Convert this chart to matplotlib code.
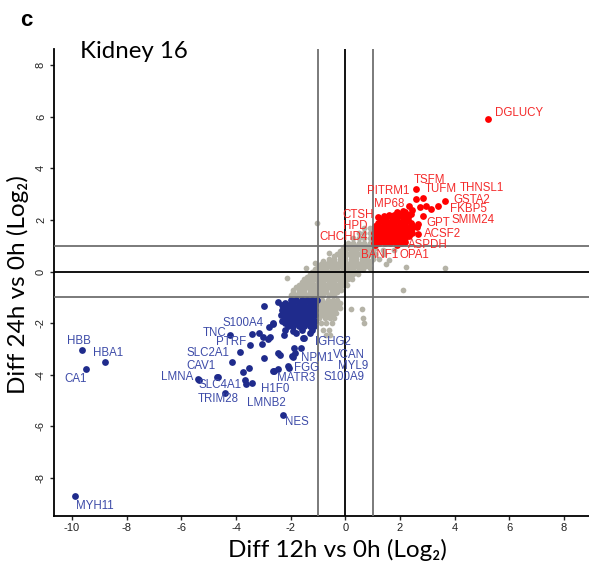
import matplotlib.pyplot as plt

# labelled genes (x = diff 12h vs 0h, y = diff 24h vs 0h, log2)
up_genes = ["DGLUCY", "TSFM", "TUFM", "PITRM1", "THNSL1", "GSTA2", "FKBP5", "MP68",
            "SMIM24", "GPT", "ACSF2", "ASPDH", "OPA1", "BANF1", "CHCHD4", "HPD", "CTSH"]
up_x = [5.21, 2.59, 2.86, 2.59, 3.66, 3.38, 3.14, 2.34, 2.83, 2.65, 2.65, 2.2, 1.9, 1.1, 1.05, 1.1, 1.43]
up_y = [5.93, 3.21, 2.85, 2.82, 2.72, 2.56, 2.43, 2.56, 2.17, 1.85, 1.44, 1.15, 1.05, 1.05, 1.3, 1.75, 2.17]

down_genes = ["HBB", "HBA1", "CA1", "MYH11", "NES", "LMNA", "TRIM28", "TNC", "S100A4", "PTRF",
              "SLC2A1", "CAV1", "SLC4A1", "H1F0", "LMNB2", "MATR3", "FGG", "NPM1", "IGHG2",
              "VCAN", "MYL9", "S100A9"]
down_x = [-9.65, -8.79, -9.5, -9.89, -2.27, -5.37, -4.4, -4.21, -3.42, -3.48,
          -3.86, -4.13, -4.7, -3.4, -3.64, -2.66, -2.11, -1.93, -1.52, -1.87, -1.62, -2.07]
down_y = [-3.04, -3.51, -3.79, -8.69, -5.55, -4.19, -4.69, -2.46, -2.4, -2.85,
          -3.13, -3.51, -4.08, -4.3, -4.34, -3.84, -3.65, -3.3, -2.58, -2.96, -2.97, -3.74]

# other significant genes
up_other = [
    (2.96, 2.56), (2.75, 2.5), (2.45, 2.4), (2.62, 1.72), (2.2, 2.3), (2.0, 2.25),
    (1.05, 1.1), (1.25, 1.1), (1.45, 1.1), (1.65, 1.1), (1.85, 1.1), (2.05, 1.1),
    (1.15, 1.2), (1.35, 1.2), (1.55, 1.2), (1.75, 1.2), (1.95, 1.2), (2.15, 1.2),
    (1.05, 1.3), (1.25, 1.3), (1.45, 1.3), (1.65, 1.3), (1.85, 1.3), (2.05, 1.3), (2.2, 1.3),
    (1.15, 1.4), (1.35, 1.4), (1.55, 1.4), (1.75, 1.4), (1.95, 1.4), (2.15, 1.4), (2.35, 1.4),
    (1.05, 1.5), (1.25, 1.5), (1.45, 1.5), (1.65, 1.5), (1.85, 1.5), (2.05, 1.5), (2.25, 1.5), (2.45, 1.5),
    (1.15, 1.6), (1.35, 1.6), (1.55, 1.6), (1.75, 1.6), (1.95, 1.6), (2.15, 1.6), (2.35, 1.6),
    (1.1, 1.7), (1.3, 1.7), (1.5, 1.7), (1.7, 1.7), (1.9, 1.7), (2.1, 1.7), (2.3, 1.7), (2.45, 1.7),
    (1.2, 1.8), (1.4, 1.8), (1.6, 1.8), (1.8, 1.8), (2.0, 1.8), (2.2, 1.8), (2.45, 1.8),
    (1.2, 1.9), (1.4, 1.9), (1.6, 1.9), (1.8, 1.9), (2.0, 1.9), (2.2, 1.9), (2.4, 1.9),
    (1.3, 2.0), (1.5, 2.0), (1.7, 2.0), (1.9, 2.0), (2.1, 2.0), (2.3, 2.0),
    (1.2, 2.1), (1.5, 2.1), (1.7, 2.1), (1.9, 2.1), (2.1, 2.1), (2.3, 2.1),
    (1.6, 2.2), (1.8, 2.2), (2.0, 2.2), (2.3, 2.2),
    (1.9, 2.3), (2.1, 2.35), (2.4, 2.25),
]
down_other = [
    (-2.97, -1.32), (-2.45, -1.19), (-2.66, -2.03), (-2.78, -2.16), (-3.15, -2.36),
    (-3.05, -2.81), (-2.84, -2.62), (-2.74, -2.53), (-2.23, -2.46), (-2.97, -3.36),
    (-2.45, -3.16), (-2.38, -3.24), (-1.95, -3.26), (-1.83, -3.14), (-3.52, -3.75),
    (-3.76, -3.88), (-2.48, -3.78), (-2.6, -3.85), (-4.65, -4.08), (-5.38, -4.17),
    (-3.66, -4.21), (-2.22, -2.26), (-1.79, -2.39), (-1.55, -2.58), (-1.3, -2.39),
    (-3.02, -2.52), (-2.65, -2.0),
    (-2.0, -1.1), (-1.8, -1.1), (-1.6, -1.1), (-1.4, -1.1), (-1.2, -1.1), (-1.05, -1.1),
    (-2.2, -1.2), (-1.9, -1.2), (-1.7, -1.2), (-1.5, -1.2), (-1.3, -1.2), (-1.1, -1.2),
    (-2.3, -1.3), (-2.1, -1.3), (-1.9, -1.3), (-1.7, -1.3), (-1.5, -1.3), (-1.3, -1.3), (-1.1, -1.3),
    (-2.2, -1.4), (-2.0, -1.4), (-1.8, -1.4), (-1.6, -1.4), (-1.4, -1.4), (-1.2, -1.4),
    (-2.3, -1.5), (-2.1, -1.5), (-1.9, -1.5), (-1.7, -1.5), (-1.5, -1.5), (-1.3, -1.5), (-1.1, -1.5),
    (-2.2, -1.6), (-2.0, -1.6), (-1.8, -1.6), (-1.6, -1.6), (-1.4, -1.6), (-1.2, -1.6),
    (-2.35, -1.7), (-2.1, -1.7), (-1.9, -1.7), (-1.7, -1.7), (-1.5, -1.7), (-1.3, -1.7), (-1.1, -1.7),
    (-2.2, -1.8), (-2.0, -1.8), (-1.8, -1.8), (-1.6, -1.8), (-1.4, -1.8), (-1.2, -1.8),
    (-2.3, -1.9), (-2.1, -1.9), (-1.9, -1.9), (-1.7, -1.9), (-1.5, -1.9), (-1.3, -1.9), (-1.1, -1.9),
    (-2.2, -2.0), (-2.0, -2.0), (-1.8, -2.0), (-1.6, -2.0), (-1.4, -2.0), (-1.2, -2.0),
    (-2.1, -2.1), (-1.9, -2.1), (-1.7, -2.1), (-1.5, -2.1), (-1.3, -2.1), (-1.15, -2.1),
    (-1.9, -2.3), (-1.6, -2.25), (-1.2, -2.25),
]

# unchanged genes
grey_points = [
    (-0.7, -2.45), (-0.55, -2.45),
    (-0.8, -2.25), (-0.6, -2.25),
    (-0.9, -2.0), (-0.7, -2.0), (-0.5, -2.0), (0.7, -2.0),
    (-0.95, -1.8), (-0.75, -1.8), (-0.55, -1.8), (-0.4, -1.8), (0.65, -1.8),
    (-0.85, -1.7), (-0.65, -1.7), (-0.5, -1.7),
    (-0.95, -1.6), (-0.75, -1.6), (-0.55, -1.6), (-0.35, -1.6),
    (-0.85, -1.5), (-0.65, -1.5), (-0.45, -1.5),
    (0.2, -1.45), (0.6, -1.45),
    (-0.95, -1.4), (-0.75, -1.4), (-0.55, -1.4), (-0.35, -1.4), (-0.2, -1.4),
    (-0.85, -1.3), (-0.65, -1.3), (-0.45, -1.3), (-0.3, -1.3),
    (-0.95, -1.2), (-0.75, -1.2), (-0.55, -1.2), (-0.35, -1.2), (-0.2, -1.2),
    (-0.85, -1.1), (-0.65, -1.1), (-0.45, -1.1), (-0.3, -1.1),
    (-1.9, -1.0), (-1.7, -1.0), (-1.5, -1.0), (-1.3, -1.0), (-1.1, -1.0),
    (-2.0, -0.9), (-1.8, -0.9), (-1.6, -0.9), (-1.4, -0.9), (-1.2, -0.9), (-1.0, -0.9),
    (-0.8, -0.9), (-0.6, -0.9), (-0.4, -0.9),
    (-1.9, -0.8), (-1.7, -0.8), (-1.5, -0.8), (-1.3, -0.8), (-1.1, -0.8), (-0.9, -0.8),
    (-0.7, -0.8), (-0.5, -0.8), (-0.3, -0.8),
    (-1.9, -0.7), (-1.7, -0.7), (-1.5, -0.7), (-1.3, -0.7), (-1.1, -0.7), (-0.9, -0.7),
    (-0.7, -0.7), (-0.5, -0.7), (-0.3, -0.7), (-0.15, -0.7), (2.12, -0.7),
    (-1.8, -0.6), (-1.6, -0.6), (-1.4, -0.6), (-1.2, -0.6), (-1.0, -0.6), (-0.8, -0.6),
    (-0.6, -0.6), (-0.4, -0.6), (-0.2, -0.6),
    (-1.7, -0.5), (-1.5, -0.5), (-1.3, -0.5), (-1.1, -0.5), (-0.9, -0.5), (-0.7, -0.5),
    (-0.5, -0.5), (-0.3, -0.5), (-0.1, -0.5), (0.05, -0.5),
    (-1.6, -0.4), (-1.4, -0.4), (-1.2, -0.4), (-1.0, -0.4), (-0.8, -0.4), (-0.6, -0.4),
    (-0.4, -0.4), (-0.2, -0.4), (0.0, -0.4),
    (-2.14, -0.26), (-1.5, -0.3), (-1.3, -0.3), (-1.1, -0.3), (-0.9, -0.3), (-0.7, -0.3),
    (-0.5, -0.3), (-0.3, -0.3), (-0.1, -0.3), (0.1, -0.3), (0.25, -0.3),
    (-1.4, -0.2), (-1.2, -0.2), (-1.0, -0.2), (-0.8, -0.2), (-0.6, -0.2), (-0.4, -0.2),
    (-0.2, -0.2), (0.0, -0.2), (0.2, -0.2),
    (-1.3, -0.1), (-1.1, -0.1), (-0.9, -0.1), (-0.7, -0.1), (-0.5, -0.1), (-0.3, -0.1),
    (-0.1, -0.1), (0.1, -0.1), (0.3, -0.1), (0.45, -0.1),
    (-1.2, 0.0), (-1.0, 0.0), (-0.8, 0.0), (-0.6, 0.0), (-0.4, 0.0), (-0.2, 0.0),
    (0.0, 0.0), (0.2, 0.0), (0.4, 0.0),
    (-1.45, 0.15), (-1.1, 0.1), (-0.9, 0.1), (-0.7, 0.1), (-0.5, 0.1), (-0.3, 0.1), (-0.1, 0.1),
    (0.1, 0.1), (0.3, 0.1), (0.5, 0.1), (0.65, 0.1), (0.9, 0.15), (3.64, 0.13),
    (-1.0, 0.2), (-0.8, 0.2), (-0.6, 0.2), (-0.4, 0.2), (-0.2, 0.2), (0.0, 0.2),
    (0.2, 0.2), (0.4, 0.2), (0.6, 0.2), (0.75, 0.2),
    (-1.1, 0.32), (-0.9, 0.3), (-0.7, 0.3), (-0.5, 0.3), (-0.3, 0.3), (-0.1, 0.3), (0.1, 0.3),
    (0.3, 0.3), (0.5, 0.3), (0.7, 0.3), (0.85, 0.3), (1.5, 0.3), (2.23, 0.18),
    (-0.8, 0.4), (-0.6, 0.4), (-0.4, 0.4), (-0.2, 0.4), (0.0, 0.4), (0.2, 0.4),
    (0.4, 0.4), (0.6, 0.4), (0.8, 0.4), (0.95, 0.4),
    (-0.6, 0.5), (-0.4, 0.5), (-0.2, 0.5), (0.0, 0.5), (0.2, 0.5), (0.4, 0.5), (0.6, 0.5),
    (0.8, 0.5), (1.0, 0.5), (1.25, 0.5), (1.6, 0.45),
    (-0.4, 0.6), (-0.2, 0.6), (0.0, 0.6), (0.2, 0.6), (0.4, 0.6), (0.6, 0.6),
    (0.8, 0.6), (1.0, 0.6),
    (-0.58, 0.71), (-0.3, 0.7), (-0.1, 0.7), (0.1, 0.7), (0.3, 0.7), (0.5, 0.7), (0.7, 0.7),
    (0.9, 0.7), (1.1, 0.7), (1.4, 0.7),
    (-0.2, 0.8), (0.0, 0.8), (0.2, 0.8), (0.4, 0.8), (0.6, 0.8), (0.8, 0.8), (1.0, 0.8),
    (-0.1, 0.9), (0.1, 0.9), (0.3, 0.9), (0.5, 0.9), (0.7, 0.9), (0.9, 0.9), (1.1, 0.9),
    (1.38, 0.84), (1.8, 0.85),
    (0.0, 1.0), (0.2, 1.0), (0.4, 1.0), (0.6, 1.0), (0.8, 1.0),
    (0.1, 1.1), (0.3, 1.1), (0.5, 1.1), (0.7, 1.1), (0.9, 1.1),
    (0.3, 1.3), (0.5, 1.3), (0.7, 1.3), (0.9, 1.3),
    (0.5, 1.5), (0.7, 1.5), (0.9, 1.5),
    (0.7, 1.7), (0.9, 1.7),
    (-1.05, 1.88),
]

# where each gene name sits (left edge, vertical centre)
label_pos = {
    "DGLUCY": (5.48, 6.14), "TSFM": (2.51, 3.55), "PITRM1": (0.78, 3.14), "TUFM": (2.91, 3.19),
    "THNSL1": (4.19, 3.26), "GSTA2": (3.97, 2.78), "MP68": (1.04, 2.62), "FKBP5": (3.85, 2.43),
    "CTSH": (-0.1, 2.2), "HPD": (-0.1, 1.77), "GPT": (2.97, 1.9), "SMIM24": (3.89, 2.0),
    "CHCHD4": (-0.93, 1.33), "ACSF2": (2.88, 1.46), "ASPDH": (2.3, 1.02), "BANF1": (0.56, 0.66),
    "OPA1": (2.0, 0.66),
    "HBB": (-10.19, -2.69), "HBA1": (-9.24, -3.14), "CA1": (-10.27, -4.16), "S100A4": (-4.5, -1.98),
    "TNC": (-5.21, -2.36), "PTRF": (-4.72, -2.74), "SLC2A1": (-5.82, -3.14), "CAV1": (-5.82, -3.64),
    "LMNA": (-6.73, -4.09), "SLC4A1": (-5.39, -4.39), "TRIM28": (-5.39, -4.93), "IGHG2": (-1.12, -2.71),
    "NPM1": (-1.63, -3.36), "VCAN": (-0.45, -3.23), "MYL9": (-0.26, -3.65), "FGG": (-1.88, -3.72),
    "MATR3": (-2.5, -4.13), "S100A9": (-0.79, -4.09), "H1F0": (-3.07, -4.55), "LMNB2": (-3.6, -5.1),
    "NES": (-2.22, -5.81), "MYH11": (-9.86, -9.07),
}

grey = "#b5b3a7"
red = "#ff0000"
red_text = "#f42a2a"
blue = "#1f2b8c"
blue_text = "#3d4ba8"

plt.rcParams["axes.unicode_minus"] = False
plt.rcParams["font.family"] = ["Liberation Sans", "DejaVu Sans"]

fig = plt.figure(figsize=(5.89, 5.69), dpi=100)
ax = fig.add_axes([54.3 / 589, 53.3 / 569, 534.7 / 589, 467 / 569])

gx, gy = zip(*grey_points)
ax.scatter(gx, gy, s=17, color=grey, linewidths=0, zorder=1)

ux, uy = zip(*up_other)
ax.scatter(list(ux) + up_x, list(uy) + up_y, s=24, color=red, linewidths=0, zorder=2)
dx, dy = zip(*down_other)
ax.scatter(list(dx) + down_x, list(dy) + down_y, s=24, color=blue, linewidths=0, zorder=2)

for v, c in [(-1, "#707070"), (1, "#707070"), (0, "black")]:
    ax.axhline(v, color=c, lw=1.3, zorder=3)
    ax.axvline(v, color=c, lw=1.3, zorder=3)

for genes, col in [(up_genes, red_text), (down_genes, blue_text)]:
    for g in genes:
        tx, ty = label_pos[g]
        ax.text(tx, ty, g, color=col, fontsize=8.3, ha="left", va="center", zorder=4)

ax.set_xlim(-10.65, 8.92)
ax.set_ylim(-9.46, 8.64)
ax.set_xticks(range(-10, 9, 2))
ax.set_yticks(range(-8, 9, 2))
ax.tick_params(length=3, width=1, labelsize=8, colors="#222222")
ax.tick_params(axis="x", pad=2)
ax.tick_params(axis="y", labelrotation=90, pad=3)
for lab in ax.get_yticklabels():
    lab.set_va("center")
for side in ["top", "right"]:
    ax.spines[side].set_visible(False)
for side in ["left", "bottom"]:
    ax.spines[side].set_linewidth(1.3)

lab_font = ["Lato", "DejaVu Sans"]
fig.text(337 / 589, 1 - 550 / 569, "Diff 12h vs 0h (Log\u2082)", fontsize=17.5, family=lab_font,
         ha="center", va="center")
fig.text(18 / 589, 1 - 285 / 569, "Diff 24h vs 0h (Log\u2082)", fontsize=17.5, family=lab_font,
         ha="center", va="center", rotation=90)
fig.text(80 / 589, 1 - 52 / 569, "Kidney 16", fontsize=17.3, family=lab_font, va="center")
fig.text(26 / 589, 1 - 21 / 569, "c", fontsize=16, fontweight="bold", ha="center", va="center")

fig.savefig("out.png", dpi=100)
